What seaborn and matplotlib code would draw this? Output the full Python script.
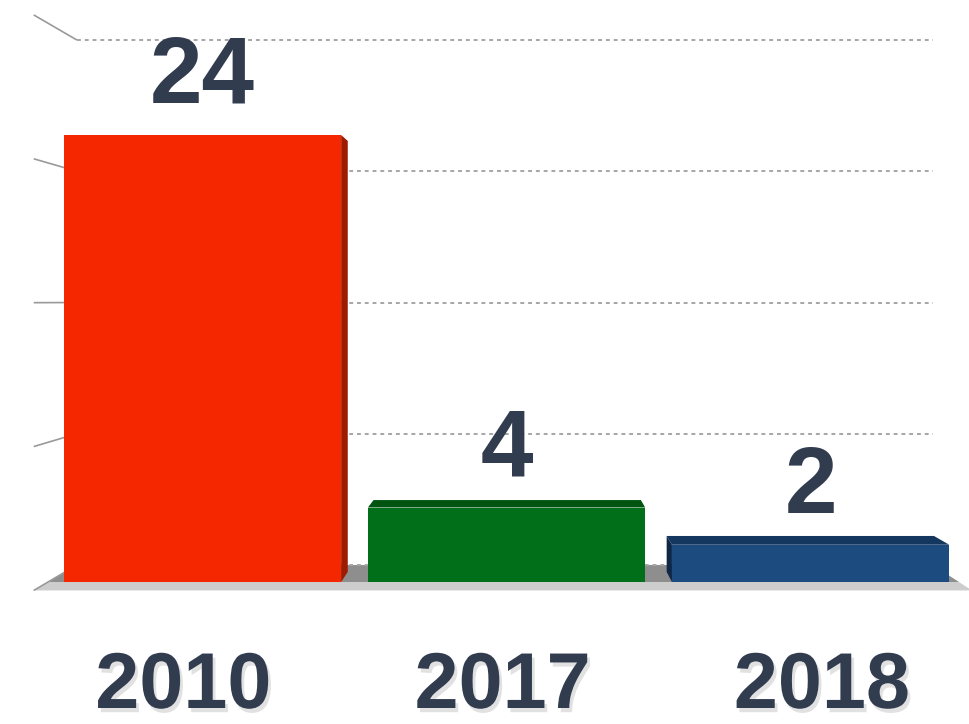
import pandas as pd
import seaborn as sns
import matplotlib.pyplot as plt
import matplotlib.patheffects as pe
from matplotlib.patches import Polygon

# -------------------------- Data --------------------------
years = ["2010", "2017", "2018"]
counts = [24, 4, 2]
front_colors = ["#F52700", "#016F19", "#1B4B7F"]
top_colors = ["#C01E00", "#00540F", "#14375F"]
side_colors = ["#9E1A00", "#004A0E", "#0E2747"]
grid_values = [0, 7.5, 15, 22.5, 30]

TEXT = "#323C4F"

# ---------------------- 3D look settings -------------------
# vanishing point (data coords) and depth scales for bars / back wall / front edge
VX, VY = 1.061, 15.1
S_BAR, S_WALL, S_FRONT, S_LABEL = 0.964, 0.9396, 1.03, 1.05
XL, XR = -0.508, 2.488  # plot area left / right in the front plane


def depth(x, y, s):
    return VX + s * (x - VX), VY + s * (y - VY)


sns.set_theme(style="white")
plt.rcParams["font.family"] = ["Liberation Sans", "DejaVu Sans"]

fig = plt.figure(figsize=(9.69, 7.24), dpi=100)
ax = fig.add_axes([0, 0, 1, 1])

df = pd.DataFrame({"year": years, "count": counts})
sns.barplot(data=df, x="year", y="count", hue="year", palette=front_colors,
            width=0.912, saturation=1, linewidth=0, legend=False, ax=ax)

ax.set_xlim(-0.666, 2.521)
ax.set_ylim(-7.624, 31.248)
ax.axis("off")

bars = [p for c in ax.containers for p in c]
bars = sorted([p for p in bars if p.get_width() > 0], key=lambda p: p.get_x())

# -------------------- floor --------------------
floor = [depth(XL, 0, 1.0), depth(XR, 0, 1.0), depth(XR, 0, S_WALL), depth(XL, 0, S_WALL)]
ax.add_patch(Polygon(floor, closed=True, facecolor="#8E8E8E", edgecolor="none", zorder=1))
strip = [depth(XL, 0, S_FRONT), depth(XR, 0, S_FRONT), depth(XR, 0, 1.0), depth(XL, 0, 1.0)]
ax.add_patch(Polygon(strip, closed=True, facecolor="#CDCDCD", edgecolor="none", zorder=1))

# -------------------- walls / gridlines --------------------
for v in grid_values:
    x1, y1 = depth(XL, v, S_WALL)
    x2, _ = depth(XR, v, S_WALL)
    ax.plot([x1, x2], [y1, y1], ls=(0, (2, 2)), color="#A6A6A6", lw=1.4, zorder=2)
    fx, fy = depth(XL, v, S_FRONT)
    ax.plot([fx, x1], [fy, y1], color="#9A9A9A", lw=1.2, zorder=2,
            solid_capstyle="butt")

# -------------------- bar faces --------------------
for i, p in enumerate(bars):
    p.set_zorder(5)
    x0 = p.get_x()
    x1 = x0 + p.get_width()
    h = p.get_height()
    bl = depth(x0, h, S_BAR)
    br = depth(x1, h, S_BAR)
    if bl[1] > h:
        ax.add_patch(Polygon([(x0, h), (x1, h), br, bl], closed=True,
                             facecolor=top_colors[i], edgecolor="none", zorder=4))
    if bl[0] < x0:
        ax.add_patch(Polygon([(x0, h), bl, depth(x0, 0, S_BAR), (x0, 0)], closed=True,
                             facecolor=side_colors[i], edgecolor="none", zorder=4))
    if br[0] > x1:
        ax.add_patch(Polygon([(x1, h), br, depth(x1, 0, S_BAR), (x1, 0)], closed=True,
                             facecolor=side_colors[i], edgecolor="none", zorder=4))

# -------------------- labels --------------------
for i, v in enumerate(counts):
    ax.annotate(str(v), (i, v), xytext=(0, 32), textcoords="offset pixels",
                ha="center", va="baseline", fontsize=68, fontweight="bold",
                color=TEXT, zorder=6)

shadow = [pe.SimplePatchShadow(offset=(2, -3), shadow_rgbFace="#888888", alpha=0.25),
          pe.Normal()]
for i, yr in enumerate(years):
    lx, _ = depth(i, 0, S_LABEL)
    ax.annotate(yr, (lx, 0), xytext=(-3, -126), textcoords="offset pixels",
                ha="center", va="baseline", fontsize=57, fontweight="bold",
                color=TEXT, zorder=6, path_effects=shadow)

fig.savefig("out.png", dpi=100)
